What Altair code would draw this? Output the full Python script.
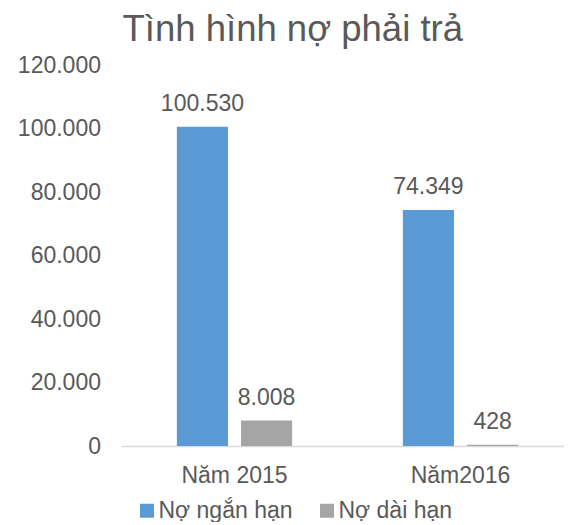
import altair as alt
import pandas as pd

years = ["Năm 2015", "Năm2016"]
series = ["Nợ ngắn hạn", "Nợ dài hạn"]
short_term = [100530, 74349]
long_term = [8008, 428]
y_ticks = [0, 20000, 40000, 60000, 80000, 100000, 120000]
colors = ["#5B9BD5", "#A5A5A5"]

rows = []
for i, yr in enumerate(years):
    for s, vals in zip(series, [short_term, long_term]):
        v = vals[i]
        rows.append({"year": yr, "series": s, "value": v,
                     "label": f"{v:,}".replace(",", ".")})
df = pd.DataFrame(rows)

FONT = "Liberation Sans"
TXT = "#595959"
FS = 23

base = alt.Chart(df).encode(
    x=alt.X("year:N", sort=years,
            scale=alt.Scale(paddingInner=0.49, paddingOuter=0.245, range=[0, 452]),
            axis=alt.Axis(title=None, labelAngle=0, ticks=False,
                          domainColor="#D9D9D9", domainWidth=1.5,
                          labelFontSize=FS, labelColor=TXT, labelFont=FONT,
                          labelBaseline="alphabetic", labelPadding=36)),
    xOffset=alt.XOffset("series:N", sort=series,
                        scale=alt.Scale(paddingInner=0.203, paddingOuter=0)),
    y=alt.Y("value:Q",
            scale=alt.Scale(domain=[0, 120000], nice=False),
            axis=alt.Axis(title=None, values=y_ticks, grid=False, domain=False,
                          ticks=False, labelFontSize=FS, labelColor=TXT,
                          labelFont=FONT, labelPadding=21,
                          labelExpr="replace(format(datum.value, ','), ',', '.')")),
)

bars = base.mark_bar().encode(
    color=alt.Color("series:N", sort=series,
                    scale=alt.Scale(domain=series, range=colors),
                    legend=alt.Legend(orient="none", legendX=14, legendY=434,
                                      direction="horizontal", title=None,
                                      symbolType="square", symbolSize=196,
                                      symbolStrokeWidth=0, labelFontSize=FS,
                                      labelColor=TXT, labelFont=FONT,
                                      columnPadding=22, labelOffset=0, padding=0))
)

text = base.mark_text(dy=-16, baseline="alphabetic", fontSize=FS,
                      color=TXT, font=FONT).encode(text="label:N")

chart = (bars + text).properties(
    width=442.5, height=381,
    title=alt.TitleParams("Tình hình nợ phải trả", fontSize=36.5, font=FONT,
                          fontWeight="normal", color=TXT, anchor="middle",
                          frame="group", baseline="alphabetic", offset=14,
                          dx=-50, dy=37.5),
    autosize=alt.AutoSizeParams(type="none"),
    padding={"left": 113.5, "top": 57, "right": 0, "bottom": 76},
).configure_view(stroke=None)

chart.save("out.html", embed_options={"renderer": "svg", "actions": False})
